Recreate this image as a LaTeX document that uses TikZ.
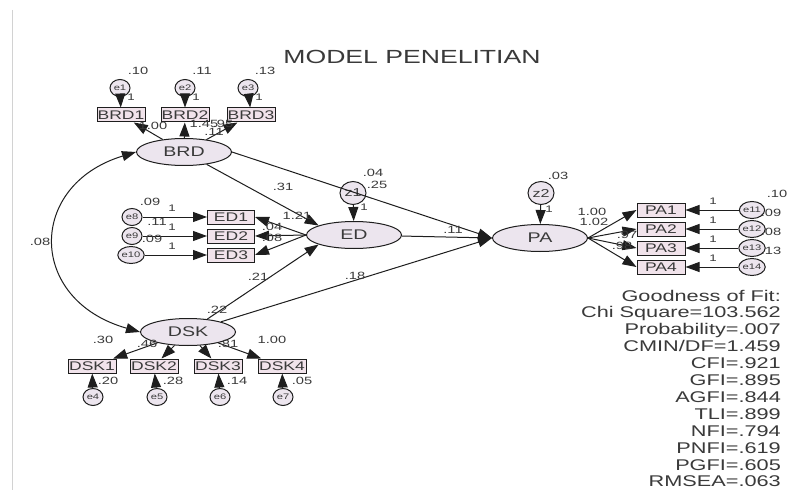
\documentclass[tikz,border=0pt]{standalone}
\usepackage{fontspec}
\setmainfont{Liberation Sans}[FakeStretch=1.4]
\usetikzlibrary{arrows.meta,shapes.geometric}
\definecolor{latc}{RGB}{236,229,238}
\definecolor{obsc}{RGB}{241,227,235}
\definecolor{txtc}{RGB}{58,58,58}
\definecolor{linec}{RGB}{30,30,30}
\begin{document}
\begin{tikzpicture}[x=1pt,y=-1pt,
  lat/.style={ellipse,draw=linec,line width=1pt,fill=latc,minimum width=95pt,minimum height=27pt,inner sep=0pt,font=\fontsize{14}{14}\selectfont,text=txtc},
  obs/.style={rectangle,draw=linec,line width=1pt,fill=obsc,minimum width=48pt,minimum height=14pt,inner sep=0pt,font=\fontsize{12.5}{12.5}\selectfont,text=txtc},
  err/.style={ellipse,draw=linec,line width=1pt,fill=latc,minimum width=20pt,minimum height=17pt,inner sep=0pt,font=\fontsize{8}{8}\selectfont,text=txtc},
  dist/.style={ellipse,draw=linec,line width=1pt,fill=latc,minimum width=26pt,minimum height=23pt,inner sep=0pt,font=\fontsize{11.5}{11.5}\selectfont,text=txtc},
  lbl/.style={font=\fontsize{10.5}{10.5}\selectfont,text=txtc,inner sep=0pt},
  one/.style={font=\fontsize{9.5}{9.5}\selectfont,text=txtc,inner sep=0pt},
  gof/.style={font=\fontsize{15.5}{15.5}\selectfont,text=txtc,inner sep=0pt,anchor=base east},
  arr/.style={-{Triangle[length=14pt,width=10pt]},draw=linec,line width=1pt},
  darr/.style={{Triangle[length=14pt,width=10pt]}-{Triangle[length=14pt,width=10pt]},draw=linec,line width=1pt}
]
\useasboundingbox (0,0) rectangle (802,497);
\fill[white] (0,0) rectangle (802,497);
\draw[gray!35,line width=0.8pt] (12,10) -- (12,490);

\node[font=\fontsize{19}{19}\selectfont,text=txtc] (title) at (412,57) {MODEL PENELITIAN};

% latent variables
\node[lat] (BRD) at (184,152) {BRD};
\node[lat] (ED) at (354,235) {ED};
\node[lat] (PA) at (540,238) {PA};
\node[lat] (DSK) at (188,332) {DSK};
\node[dist] (z1) at (353,193) {z1};
\node[dist] (z2) at (541,193) {z2};

% BRD indicators
\node[obs] (BRD1) at (121,115) {BRD1};
\node[obs] (BRD2) at (185,115) {BRD2};
\node[obs] (BRD3) at (251,115) {BRD3};
\node[err] (e1) at (120,88) {e1};
\node[err] (e2) at (185,88) {e2};
\node[err] (e3) at (248,88) {e3};

% ED indicators
\node[obs,minimum width=47pt] (ED1) at (231,217) {ED1};
\node[obs,minimum width=47pt] (ED2) at (231,236) {ED2};
\node[obs,minimum width=47pt] (ED3) at (231,255) {ED3};
\node[err] (e8) at (132,217) {e8};
\node[err] (e9) at (132,236) {e9};
\node[err] (e10) at (131,255) {e10};

% DSK indicators
\node[obs] (DSK1) at (92,366) {DSK1};
\node[obs] (DSK2) at (154,366) {DSK2};
\node[obs] (DSK3) at (218,366) {DSK3};
\node[obs] (DSK4) at (282,366) {DSK4};
\node[err] (e4) at (93,397) {e4};
\node[err] (e5) at (157,397) {e5};
\node[err] (e6) at (220,397) {e6};
\node[err] (e7) at (283,397) {e7};

% PA indicators
\node[obs] (PA1) at (661,210) {PA1};
\node[obs] (PA2) at (661,229) {PA2};
\node[obs] (PA3) at (661,248) {PA3};
\node[obs] (PA4) at (661,267) {PA4};
\node[err] (e11) at (752,210) {e11};
\node[err] (e12) at (752,229) {e12};
\node[err] (e13) at (752,248) {e13};
\node[err] (e14) at (752,267) {e14};

% connectors
\foreach \e/\b in {e1/BRD1,e2/BRD2,e3/BRD3,e8/ED1,e9/ED2,e10/ED3,e4/DSK1,e5/DSK2,e6/DSK3,e7/DSK4,e11/PA1,e12/PA2,e13/PA3,e14/PA4}
  \draw[arr] (\e) -- (\b);
\foreach \b in {BRD1,BRD2,BRD3} \draw[arr] (BRD) -- (\b);
\foreach \b in {DSK1,DSK2,DSK3,DSK4} \draw[arr] (DSK) -- (\b);
\foreach \b in {ED1,ED2,ED3} \draw[arr] (ED.west) -- (\b.east);
\foreach \b in {PA1,PA2,PA3,PA4} \draw[arr] (PA.east) -- (\b.west);
\draw[arr] (z1) -- (ED);
\draw[arr] (z2) -- (PA);
\draw[arr] (BRD) -- (ED.165);
\draw[arr] (DSK) -- (ED.195);
\draw[arr] (BRD.east) -- (PA.west);
\draw[arr] (ED) -- (PA.west);
\draw[arr] (DSK) -- (PA.west);
\draw[darr] (BRD.west) .. controls (27,185) and (27,300) .. (DSK.west);

% labels
\node[lbl] (l1) at (138,71) {.10};
\node[lbl] (l2) at (202,71) {.11};
\node[lbl] (l3) at (265,71) {.13};
\node[one] (o1) at (131,97) {1};
\node[one] (o2) at (196,97) {1};
\node[one] (o3) at (259,97) {1};
\node[lbl] (l4) at (153,126) {1.00};
\node[lbl] (l5) at (204,124) {1.45};
\node[lbl] (l6) at (223,124) {.95};
\node[lbl] (l7) at (214,132) {.11};
\node[lbl] (l8) at (283,187) {.31};
\node[lbl] (l9) at (373,173) {.04};
\node[lbl] (l10) at (377,185) {.25};
\node[one] (o4) at (364,207) {1};
\node[lbl] (l11) at (150,202) {.09};
\node[lbl] (l12) at (157,222) {.11};
\node[lbl] (l13) at (152,239) {.09};
\node[one] (o5) at (172,208) {1};
\node[one] (o6) at (172,227) {1};
\node[one] (o7) at (172,246) {1};
\node[lbl] (l14) at (297,216) {1.21};
\node[lbl] (l15) at (272,227) {.04};
\node[lbl] (l16) at (272,238) {.08};
\node[lbl] (l17) at (453,230) {.11};
\node[lbl] (l18) at (258,277) {.21};
\node[lbl] (l19) at (355,276) {.18};
\node[lbl] (l20) at (217,310) {.22};
\node[lbl] (l21) at (40,242) {.08};
\node[lbl] (l22) at (103,340) {.30};
\node[lbl] (l23) at (147,344) {.46};
\node[lbl] (l24) at (228,344) {.81};
\node[lbl] (l25) at (272,340) {1.00};
\node[lbl] (l26) at (108,381) {.20};
\node[lbl] (l27) at (173,381) {.28};
\node[lbl] (l28) at (237,381) {.14};
\node[lbl] (l29) at (302,381) {.05};
\node[lbl] (l30) at (558,176) {.03};
\node[one] (o8) at (549,209) {1};
\node[lbl] (l31) at (592,212) {1.00};
\node[lbl] (l32) at (594,222) {1.02};
\node[lbl] (l33) at (627,235) {.97};
\node[lbl] (l34) at (622,246) {.98};
\node[lbl] (l35) at (777,194) {.10};
\node[lbl] (l36) at (771,213) {.09};
\node[lbl] (l37) at (771,232) {.08};
\node[lbl] (l38) at (771,251) {.13};
\node[one] (o9) at (713,201) {1};
\node[one] (o10) at (713,220) {1};
\node[one] (o11) at (713,239) {1};
\node[one] (o12) at (713,258) {1};

% goodness of fit
\foreach \t [count=\i from 0] in {Goodness of Fit:,Chi Square=103.562,Probability=.007,CMIN/DF=1.459,CFI=.921,GFI=.895,AGFI=.844,TLI=.899,NFI=.794,PNFI=.619,PGFI=.605,RMSEA=.063}
  \node[gof] (gf\i) at (781,{301+16.9*\i}) {\t};
\end{tikzpicture}
\end{document}
